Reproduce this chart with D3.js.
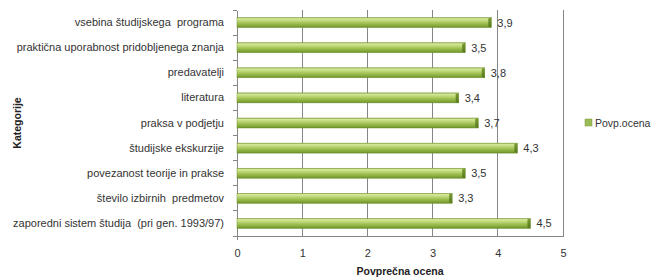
<!DOCTYPE html>
<html><head><meta charset="utf-8">
<script src="https://cdn.jsdelivr.net/npm/d3@7"></script>
<style>body{margin:0;background:#fff}svg{display:block}text{font-family:"Liberation Sans",Arial,sans-serif;white-space:pre}</style>
</head><body>
<svg id="c" width="661" height="280"></svg>
<script>
const categories = ["vsebina študijskega  programa","praktična uporabnost pridobljenega znanja","predavatelji","literatura","praksa v podjetju","študijske ekskurzije","povezanost teorije in prakse","število izbirnih  predmetov","zaporedni sistem študija  (pri gen. 1993/97)"];
const values = [3.9,3.5,3.8,3.4,3.7,4.3,3.5,3.3,4.5];
const valueLabels = ["3,9","3,5","3,8","3,4","3,7","4,3","3,5","3,3","4,5"];
const xTicks = [0,1,2,3,4,5];
const seriesName = "Povp.ocena";
const xTitle = "Povprečna ocena";
const yTitle = "Kategorije";

const svg = d3.select("#c");
const L=237,R=563,T=10,B=236;
const x = d3.scaleLinear().domain([0,5]).range([L,R]);
const y = d3.scaleBand().domain(categories).range([T,B]);

const defs = svg.append("defs");
const g = defs.append("linearGradient").attr("id","bg").attr("x1",0).attr("y1",0).attr("x2",0).attr("y2",1);
[[0,"#93b24c"],[0.12,"#d6e89a"],[0.35,"#bcd675"],[0.6,"#9cbd4f"],[0.85,"#82a538"],[1,"#668a28"]].forEach(s=>g.append("stop").attr("offset",s[0]).attr("stop-color",s[1]));
const g2 = defs.append("linearGradient").attr("id","bc").attr("x1",0).attr("y1",0).attr("x2",0).attr("y2",1);
[[0,"#7a9c34"],[1,"#56771e"]].forEach(s=>g2.append("stop").attr("offset",s[0]).attr("stop-color",s[1]));

// gridlines
svg.append("g").selectAll("line").data(xTicks.slice(1)).join("line")
  .attr("x1",d=>x(d)).attr("x2",d=>x(d)).attr("y1",T).attr("y2",B)
  .attr("stroke","#868686").attr("stroke-width",1).attr("shape-rendering","crispEdges");

// axes
const xa = svg.append("g").attr("transform",`translate(0,${B})`).call(d3.axisBottom(x).tickValues(xTicks).tickSize(0).tickPadding(13).tickFormat(d3.format("d")));
xa.select(".domain").attr("stroke","#868686").attr("shape-rendering","crispEdges");
xa.selectAll("text").attr("font-size","11px").attr("fill","#333");
svg.append("line").attr("x1",L).attr("x2",L).attr("y1",B).attr("y2",B+4).attr("stroke","#868686").attr("shape-rendering","crispEdges");

const ya = svg.append("g").attr("transform",`translate(${L},0)`).call(d3.axisLeft(y).tickSize(0).tickPadding(13));
ya.select(".domain").attr("stroke","#868686").attr("shape-rendering","crispEdges");
ya.selectAll("text").attr("font-size","11px").attr("fill","#333");
svg.append("g").selectAll("line").data(d3.range(categories.length+1)).join("line")
  .attr("x1",L-4).attr("x2",L).attr("y1",i=>T+i*y.step()).attr("y2",i=>T+i*y.step())
  .attr("stroke","#868686").attr("shape-rendering","crispEdges");

// bars
const bh=10;
const bars = svg.append("g").selectAll("g").data(categories).join("g");
bars.append("rect").attr("x",x(0)).attr("y",(d)=>y(d)+y.bandwidth()/2-bh/2)
  .attr("width",(d,i)=>x(values[i])-x(0)).attr("height",bh).attr("fill","url(#bg)")
  .attr("stroke","#779836").attr("stroke-width",0.5);
bars.append("path").attr("d",(d,i)=>{const xe=x(values[i]),yt=y(d)+y.bandwidth()/2-bh/2;return `M${xe-3},${yt+1}L${xe},${yt}L${xe},${yt+bh}L${xe-3},${yt+bh-1}Z`;})
  .attr("fill","url(#bc)");
bars.append("text").attr("x",(d,i)=>x(values[i])+6).attr("y",d=>y(d)+y.bandwidth()/2+4)
  .attr("font-size","11px").attr("fill","#333").text((d,i)=>valueLabels[i]);

// titles
svg.append("text").attr("x",(L+R)/2).attr("y",275).attr("text-anchor","middle").attr("font-size","10.5px").attr("font-weight","bold").attr("fill","#222").text(xTitle);
svg.append("text").attr("transform","translate(21,123) rotate(-90)").attr("text-anchor","middle").attr("font-size","10.5px").attr("font-weight","bold").attr("fill","#222").text(yTitle);

// legend
svg.append("rect").attr("x",585).attr("y",119).attr("width",7).attr("height",7).attr("fill","#9bbb59").attr("stroke","#7d9b3e").attr("stroke-width",0.5);
svg.append("text").attr("x",595).attr("y",127).attr("font-size","10.5px").attr("fill","#333").text(seriesName);
</script>
</body></html>
